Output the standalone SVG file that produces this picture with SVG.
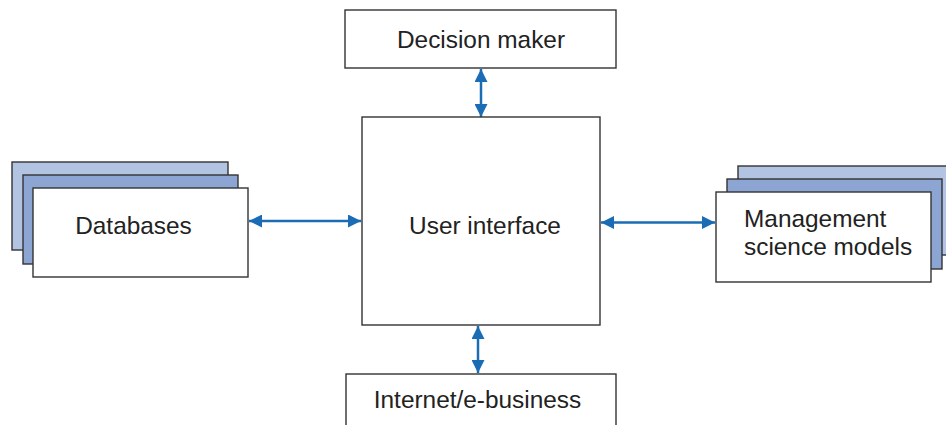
<svg xmlns="http://www.w3.org/2000/svg" width="946" height="425" viewBox="0 0 946 425">
<style>
.box{fill:#fff;stroke:#333;stroke-width:1.4}
.b1{fill:#b3c3e2;stroke:#333;stroke-width:1.4}
.b2{fill:#8ca5d3;stroke:#333;stroke-width:1.4}
.t{font-family:"Liberation Sans",Arial,sans-serif;font-size:24.4px;fill:#222}
.c{stroke:#1a6db4;stroke-width:2.5;fill:none}
</style>
<defs>
<marker id="ah" viewBox="0 0 13 13" refX="13" refY="6.5" markerWidth="13" markerHeight="13" markerUnits="userSpaceOnUse" orient="auto-start-reverse">
<path d="M0,0 L13,6.5 L0,13 Z" fill="#1a6db4"/>
</marker>
</defs>
<rect width="946" height="425" fill="#fff"/>
<g id="connectors">
<line class="c" x1="481" y1="69" x2="481" y2="117" marker-start="url(#ah)" marker-end="url(#ah)"/>
<line class="c" x1="249" y1="221" x2="361" y2="221" marker-start="url(#ah)" marker-end="url(#ah)"/>
<line class="c" x1="601" y1="222.5" x2="715" y2="222.5" marker-start="url(#ah)" marker-end="url(#ah)"/>
<line class="c" x1="478" y1="326" x2="478" y2="373" marker-start="url(#ah)" marker-end="url(#ah)"/>
</g>
<g id="decision-maker">
<rect class="box" x="345" y="10" width="271" height="58"/>
<text class="t" x="481" y="48" text-anchor="middle">Decision maker</text>
</g>
<g id="user-interface">
<rect class="box" x="362" y="117" width="238" height="208"/>
<text class="t" x="485" y="234" text-anchor="middle">User interface</text>
</g>
<g id="databases">
<rect class="b1" x="12" y="162" width="216" height="88"/>
<rect class="b2" x="23" y="175" width="215" height="89"/>
<rect class="box" x="33" y="188" width="215" height="89"/>
<text class="t" x="133.5" y="234" text-anchor="middle">Databases</text>
</g>
<g id="management-science-models">
<rect class="b1" x="738" y="166" width="215" height="89"/>
<rect class="b2" x="727" y="179" width="215" height="90"/>
<rect class="box" x="716" y="192" width="215" height="90"/>
<text class="t" x="744" y="227">Management</text>
<text class="t" x="744" y="255">science models</text>
</g>
<g id="internet-e-business">
<rect class="box" x="346" y="374" width="270" height="60"/>
<text class="t" x="477.5" y="408" text-anchor="middle">Internet/e-business</text>
</g>
</svg>
